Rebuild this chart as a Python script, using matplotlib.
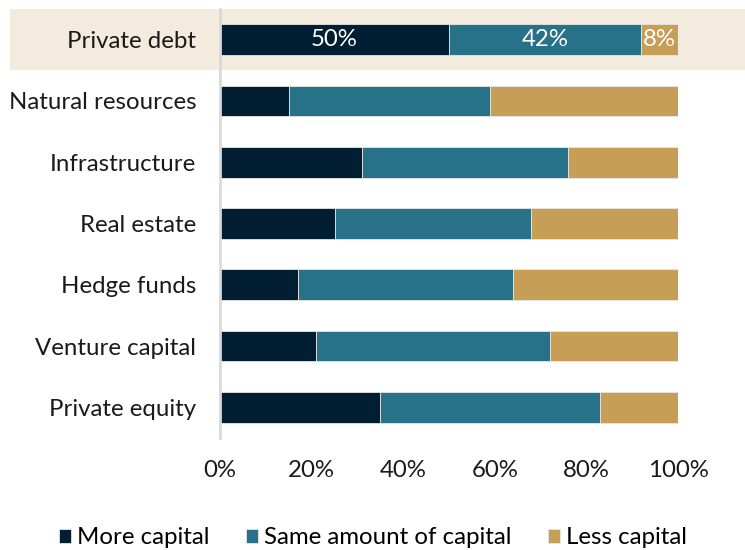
import matplotlib
matplotlib.use("Agg")
import matplotlib.pyplot as plt
from matplotlib.patches import Rectangle
from matplotlib.transforms import blended_transform_factory
from matplotlib.ticker import FuncFormatter

plt.rcParams['font.family'] = ['Lato', 'DejaVu Sans']

categories = ["Private debt", "Natural resources", "Infrastructure", "Real estate",
              "Hedge funds", "Venture capital", "Private equity"]
more_capital = [50, 15, 31, 25, 17, 21, 35]
same_capital = [42, 44, 45, 43, 47, 51, 48]
less_capital = [8, 41, 24, 32, 36, 28, 17]
series_names = ["More capital", "Same amount of capital", "Less capital"]
colors = ["#011E33", "#277189", "#C69E55"]
xticks = [0, 20, 40, 60, 80, 100]

fig = plt.figure(figsize=(7.45, 5.5), dpi=100)
ax = fig.add_axes([220/745, 1-438/550, 458/745, (438-9)/550])

n = len(categories)
ypos = [n - 1 - i for i in range(n)]
fs = 17.3

left = [0]*n
handles = []
for vals, name, col in zip([more_capital, same_capital, less_capital], series_names, colors):
    b = ax.barh(ypos, vals, left=left, height=0.5, color=col, edgecolor="#e6e6e6",
                linewidth=0.6, label=name, zorder=3)
    handles.append(b)
    left = [l + v for l, v in zip(left, vals)]

# labels on highlighted row
l0 = 0
for vals in [more_capital, same_capital, less_capital]:
    v = vals[0]
    ax.text(l0 + v/2, ypos[0], f"{v}%", ha="center", va="center", color="white",
            fontsize=fs, zorder=4)
    l0 += v

# highlight band
trans = blended_transform_factory(ax.transAxes, ax.transData)
x0 = (10-220)/458
x1 = (745-220)/458
ax.add_patch(Rectangle((x0, ypos[0]-0.5), x1-x0, 1.0, transform=trans,
                       facecolor="#F3EBDD", edgecolor="none", clip_on=False, zorder=0))

ax.set_xlim(0, 100)
ax.set_ylim(-0.5, n - 0.5)
ax.set_yticks(ypos)
ax.set_yticklabels(categories, fontsize=fs, color="#1a1a1a")
ax.set_xticks(xticks)
ax.xaxis.set_major_formatter(FuncFormatter(lambda v, p: f"{int(v)}%"))
ax.tick_params(axis="x", labelsize=fs, length=0, pad=16, labelcolor="#1a1a1a")
ax.tick_params(axis="y", length=0, pad=17)
for s in ["top", "right", "bottom"]:
    ax.spines[s].set_visible(False)
ax.spines["left"].set_color("#d9d9d9")
ax.spines["left"].set_linewidth(2)
ax.spines["left"].set_zorder(5)
ax.set_facecolor("none")

leg = fig.legend(handles=handles, labels=series_names, loc="center",
                 bbox_to_anchor=(373/745, 1-538/550), ncol=3, frameon=False,
                 fontsize=fs, handlelength=0.5, handleheight=0.5, handletextpad=0.25,
                 columnspacing=1.5)

fig.savefig("out.png", dpi=100)
